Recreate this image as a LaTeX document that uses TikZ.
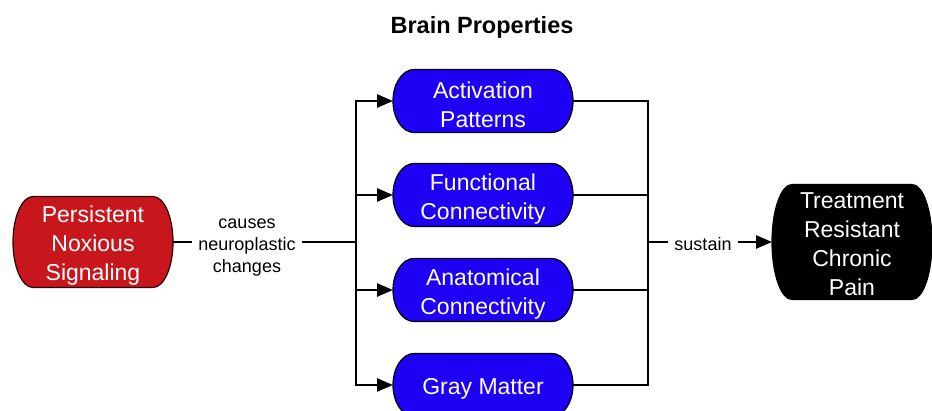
\documentclass[tikz,border=0pt]{standalone}
\usepackage{fontspec}
\setmainfont{Liberation Sans}
\usetikzlibrary{arrows.meta,backgrounds}
\definecolor{nodeblue}{RGB}{30,0,245}
\definecolor{nodered}{RGB}{200,22,29}
% outline of a node with half-elliptic ends: node name, x radius, y radius, style
\newcommand{\capsuleshape}[4]{%
  \draw[#4] ([xshift=#2]#1.north west) -- ([xshift=-#2]#1.north east)
    arc[start angle=90, end angle=-90, x radius=#2, y radius=#3]
    -- ([xshift=#2]#1.south west)
    arc[start angle=270, end angle=90, x radius=#2, y radius=#3] -- cycle;}
\newcommand{\topstrut}{\rule{0pt}{24pt}}
\newcommand{\smallstrut}{\rule{0pt}{20pt}}
\begin{document}
\begin{tikzpicture}[x=1pt,y=-1pt,
  box/.style={rectangle, inner sep=0pt, outer sep=0pt, text=white, align=center,
    font=\fontsize{23}{29}\selectfont},
  bluebox/.style={box, minimum width=180pt, minimum height=63pt},
  blueshape/.style={fill=nodeblue, draw=black, line width=1.2pt},
  redshape/.style={fill=nodered, draw=black!80!nodered, line width=1.2pt},
  blackshape/.style={fill=black, draw=black, line width=1.2pt},
  lbl/.style={align=center, font=\fontsize{18}{22}\selectfont, inner xsep=6pt, inner ysep=2pt},
  conn/.style={line width=2.6pt},
  bus/.style={line width=2.6pt, line cap=rect},
  arr/.style={line width=2.6pt, -{Triangle[length=16pt,width=13pt]}}]
\clip (0,0) rectangle (932,411);

\node[font=\fontsize{23.5}{28}\selectfont\bfseries] (title) at (482,27) {Brain Properties};

\node[box, minimum width=160pt, minimum height=91pt] (noxious) at (93,242)
  {\topstrut Persistent\\Noxious\\Signaling};

\node[bluebox] (act)  at (483,101) {\topstrut Activation\\Patterns};
\node[bluebox] (func) at (483,195) {\topstrut Functional\\Connectivity};
\node[bluebox] (anat) at (483,290) {\topstrut Anatomical\\Connectivity};
\node[bluebox] (gray) at (483,385) {\topstrut Gray Matter};

\node[box, minimum width=160pt, minimum height=115pt] (pain) at (852,242)
  {\smallstrut Treatment\\Resistant\\Chronic\\Pain};

\begin{pgfonlayer}{background}
  \capsuleshape{noxious}{20pt}{45.5pt}{redshape}
  \capsuleshape{act}{21pt}{31.5pt}{blueshape}
  \capsuleshape{func}{21pt}{31.5pt}{blueshape}
  \capsuleshape{anat}{21pt}{31.5pt}{blueshape}
  \capsuleshape{gray}{21pt}{31.5pt}{blueshape}
  \capsuleshape{pain}{20pt}{57.5pt}{blackshape}
\end{pgfonlayer}

\node[lbl] (causes) at (247,248) {causes\\neuroplastic\\changes};
\node[lbl] (sustain) at (703,244) {sustain};

\coordinate (lbus) at (356,242);
\coordinate (rbus) at (648,242);

% left side
\draw[conn] (noxious.east) -- (noxious.east -| causes.west);
\draw[conn] (lbus -| causes.east) -- (lbus);
\draw[bus] (lbus |- act.west) -- (lbus |- gray.west);
\draw[arr] (lbus |- act.west) -- (act.west);
\draw[arr] (lbus |- func.west) -- (func.west);
\draw[arr] (lbus |- anat.west) -- (anat.west);
\draw[arr] (lbus |- gray.west) -- (gray.west);

% right side
\draw[bus] (rbus |- act.east) -- (rbus |- gray.east);
\draw[conn] (act.east) -- (rbus |- act.east);
\draw[conn] (func.east) -- (rbus |- func.east);
\draw[conn] (anat.east) -- (rbus |- anat.east);
\draw[conn] (gray.east) -- (rbus |- gray.east);
\draw[conn] (rbus) -- (rbus -| sustain.west);
\draw[arr] (rbus -| sustain.east) -- (pain.west);
\end{tikzpicture}
\end{document}
